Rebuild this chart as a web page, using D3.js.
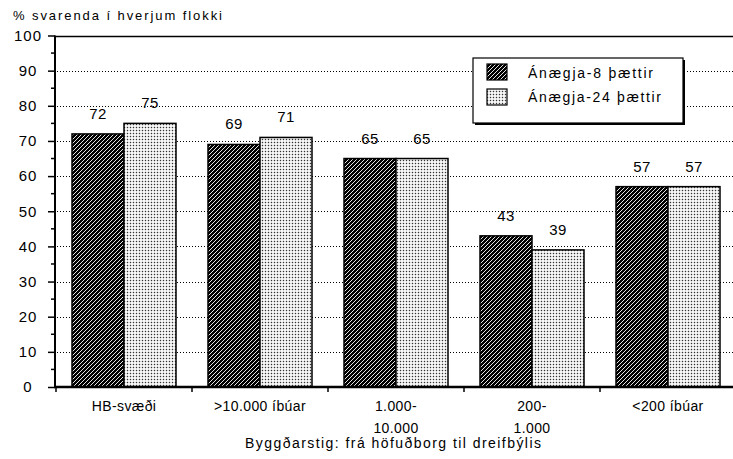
<!DOCTYPE html>
<html>
<head>
<meta charset="utf-8">
<script src="https://cdn.jsdelivr.net/npm/d3@7"></script>
<style>
  html, body { margin: 0; padding: 0; background: #fff; }
  svg { display: block; }
  text { font-family: "Liberation Sans", Arial, sans-serif; fill: #000; }
</style>
</head>
<body>
<svg id="chart" width="733" height="459"></svg>
<script>
// ---- data ----
const categories = [["HB-svæði"], [">10.000 íbúar"], ["1.000-", "10.000"], ["200-", "1.000"], ["<200 íbúar"]];
const seriesNames = ["Ánægja-8 þættir", "Ánægja-24 þættir"];
const series8 = [72, 69, 65, 43, 57];
const series24 = [75, 71, 65, 39, 57];
const yTicks = [0, 10, 20, 30, 40, 50, 60, 70, 80, 90, 100];
const yTitle = "% svarenda í hverjum flokki";
const xTitle = "Byggðarstig:  frá höfuðborg til dreifbýlis";

const svg = d3.select("#chart");
const defs = svg.append("defs");

// patterns
const p1 = defs.append("pattern").attr("id", "hatch").attr("patternUnits", "userSpaceOnUse")
  .attr("width", 4).attr("height", 4);
p1.append("rect").attr("width", 4).attr("height", 4).attr("fill", "#000");
p1.append("path").attr("d", "M-1,1 l2,-2 M0,4 l4,-4 M3,5 l2,-2")
  .attr("stroke", "#fff").attr("stroke-width", 0.9);

const p2 = defs.append("pattern").attr("id", "dots").attr("patternUnits", "userSpaceOnUse")
  .attr("width", 3).attr("height", 3);
p2.append("rect").attr("width", 3).attr("height", 3).attr("fill", "#fff");
p2.append("rect").attr("x", 0.8).attr("y", 0.8).attr("width", 1.4).attr("height", 1.4).attr("fill", "#333");

const fills = ["url(#hatch)", "url(#dots)"];

// scales
const catIdx = categories.map((d, i) => i);
const x = d3.scaleBand().domain(catIdx).range([56, 736]).paddingInner(0).paddingOuter(0);
const xs = d3.scaleBand().domain([0, 1]).range([16, 120]).padding(0);
const y = d3.scaleLinear().domain([0, 100]).range([387, 35.5]);

// gridlines (dotted)
svg.append("g").selectAll("line").data(yTicks.filter(t => t > 0 && t < 100)).join("line")
  .attr("x1", 57).attr("x2", 733)
  .attr("y1", d => Math.round(y(d)) + 0.5).attr("y2", d => Math.round(y(d)) + 0.5)
  .attr("stroke", "#000").attr("stroke-width", 1).attr("stroke-dasharray", "1,2");

// top frame line
svg.append("line").attr("x1", 55).attr("x2", 733)
  .attr("y1", Math.round(y(100)) + 0.5).attr("y2", Math.round(y(100)) + 0.5)
  .attr("stroke", "#000").attr("stroke-width", 1.5);

// bars
const data = [];
catIdx.forEach(i => {
  data.push({ c: i, s: 0, v: series8[i] });
  data.push({ c: i, s: 1, v: series24[i] });
});
svg.append("g").selectAll("rect").data(data).join("rect")
  .attr("x", d => x(d.c) + xs(d.s))
  .attr("width", xs.bandwidth())
  .attr("y", d => y(d.v))
  .attr("height", d => y(0) - y(d.v))
  .attr("fill", d => fills[d.s])
  .attr("stroke", "#000").attr("stroke-width", 1.5);

// value labels
svg.append("g").selectAll("text").data(data).join("text")
  .attr("x", d => x(d.c) + xs(d.s) + xs.bandwidth() / 2)
  .attr("y", d => y(d.v) - 15)
  .attr("text-anchor", "middle")
  .attr("font-size", 15)
  .attr("letter-spacing", 0.5)
  .text(d => d.v);

// y axis
const yAxis = d3.axisLeft(y).tickValues(yTicks).tickSize(7).tickPadding(0).tickFormat(d3.format("d"));
const gy = svg.append("g").attr("transform", "translate(55,0)").call(yAxis);
gy.select(".domain").remove();
gy.selectAll(".tick line").attr("stroke", "#000").attr("stroke-width", 1.5);
gy.selectAll(".tick text").attr("x", -27).attr("text-anchor", "middle")
  .attr("font-size", 15).attr("letter-spacing", 1).attr("fill", "#000")
  .attr("font-family", "Liberation Sans, Arial, sans-serif");
// minor ticks
const minor = d3.range(5, 100, 10);
svg.append("g").selectAll("line").data(minor).join("line")
  .attr("x1", 51).attr("x2", 55).attr("y1", d => y(d)).attr("y2", d => y(d))
  .attr("stroke", "#000").attr("stroke-width", 1.5);
// y axis line
svg.append("line").attr("x1", 55).attr("x2", 55).attr("y1", y(100)).attr("y2", y(0) + 1)
  .attr("stroke", "#000").attr("stroke-width", 2);

// x axis
const xAxis = d3.axisBottom(x).tickSize(0).tickFormat(() => "");
const gx = svg.append("g").attr("transform", `translate(0,${y(0)})`).call(xAxis);
gx.select(".domain").remove();
svg.append("line").attr("x1", 54).attr("x2", 733).attr("y1", y(0)).attr("y2", y(0))
  .attr("stroke", "#000").attr("stroke-width", 2.5);
svg.append("g").selectAll("line").data(catIdx).join("line")
  .attr("x1", d => x(d)).attr("x2", d => x(d))
  .attr("y1", y(0)).attr("y2", y(0) + 5)
  .attr("stroke", "#000").attr("stroke-width", 1.5);

// category labels
const cl = svg.append("g").selectAll("text").data(catIdx).join("text")
  .attr("x", d => x(d) + x.bandwidth() / 2)
  .attr("y", 411)
  .attr("text-anchor", "middle")
  .attr("font-size", 14)
  .attr("letter-spacing", 0.4);
cl.each(function(d) {
  const t = d3.select(this);
  categories[d].forEach((line, j) => {
    t.append("tspan").attr("x", x(d) + x.bandwidth() / 2).attr("dy", j === 0 ? 0 : 22).text(line);
  });
});

// axis titles
svg.append("text").attr("x", 393).attr("y", 448).attr("text-anchor", "middle")
  .attr("font-size", 14).attr("textLength", 296).attr("lengthAdjust", "spacing")
  .text(xTitle);
svg.append("text").attr("x", 13).attr("y", 20)
  .attr("font-size", 13).attr("textLength", 209).attr("lengthAdjust", "spacing")
  .text(yTitle);

// legend
const lg = svg.append("g");
lg.append("rect").attr("x", 475).attr("y", 60).attr("width", 210).attr("height", 65).attr("fill", "#000");
lg.append("rect").attr("x", 473).attr("y", 58).attr("width", 210).attr("height", 65)
  .attr("fill", "#fff").attr("stroke", "#000").attr("stroke-width", 1.2);
seriesNames.forEach((name, i) => {
  lg.append("rect").attr("x", 487).attr("y", 64 + i * 25).attr("width", 20).attr("height", 16)
    .attr("fill", fills[i]).attr("stroke", "#000").attr("stroke-width", 1.2);
  lg.append("text").attr("x", 528).attr("y", 78 + i * 24)
    .attr("font-size", 14).attr("textLength", i === 0 ? 125 : 133).attr("lengthAdjust", "spacing")
    .text(name);
});
</script>
</body>
</html>
